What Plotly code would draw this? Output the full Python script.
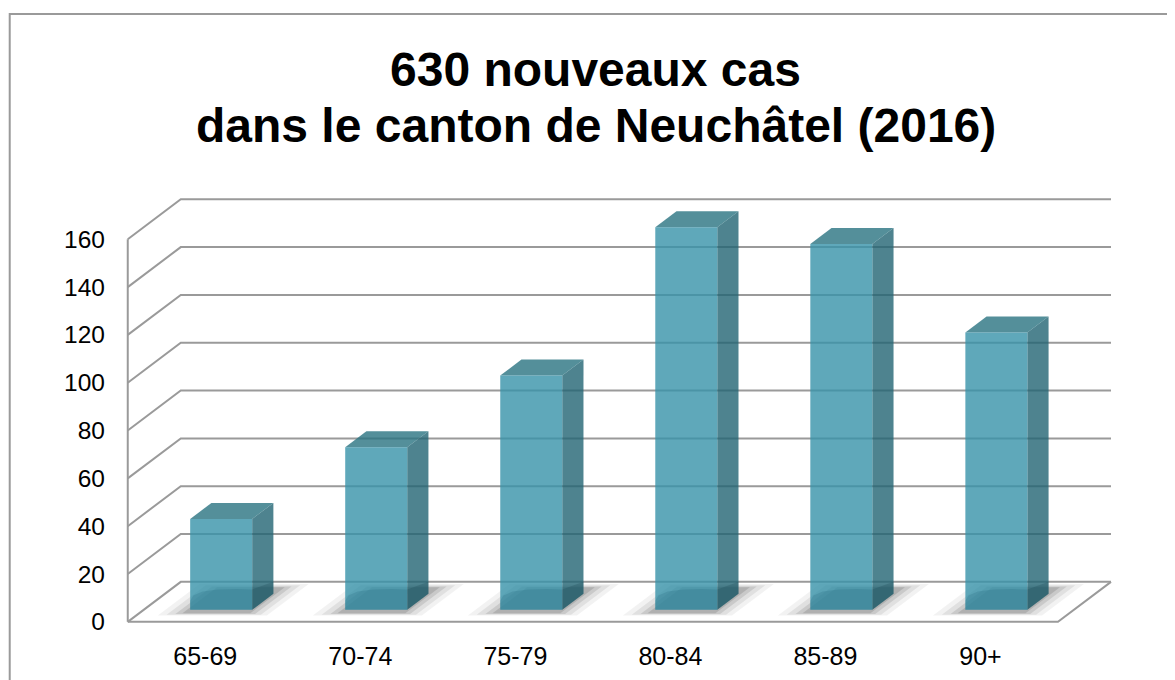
import plotly.graph_objects as go

# ---------------- data ----------------
categories = ["65-69", "70-74", "75-79", "80-84", "85-89", "90+"]
values = [38, 68, 98, 160, 153, 116]
y_ticks = [0, 20, 40, 60, 80, 100, 120, 140, 160]
title_lines = ["630 nouveaux cas", "dans le canton de Neuchâtel (2016)"]

# ---------------- geometry / style ----------------
W, H = 1175, 680
OFF = 8.0             # page body margin (page px = figure px + OFF)
PX_X = 155.0          # pixels per category unit
PX_Y = 2.392          # pixels per value unit
X0_PX, Y0_PX = 128.0 - OFF, 622.0 - OFF   # figure-pixel position of the front-axis origin
XR = [-0.05, 6.40]
YR = [-3.0, 180.6]
DX = 53.0 / PX_X      # depth offset (category units)
DY = 40.0 / PX_Y      # depth offset (value units)
F0, F1 = 0.30, 0.70   # bar depth span (fraction of floor depth)
BW = 0.40             # bar width (category units)
N = len(categories)
X_END = N + DX

L = X0_PX + XR[0] * PX_X
PW = (XR[1] - XR[0]) * PX_X
R = W - L - PW
T = Y0_PX - YR[1] * PX_Y
PH = (YR[1] - YR[0]) * PX_Y
B = H - T - PH

GRID = "#9a9a9a"
FONT = "Liberation Sans, Arial, sans-serif"

def px2paper_x(px):
    return (px - OFF - L) / PW

def py2paper_y(py):
    return (H - B - (py - OFF)) / PH

fig = go.Figure()

def poly(xs, ys, fill, line_color="rgba(0,0,0,0)", lw=0):
    fig.add_trace(go.Scatter(x=xs + [xs[0]], y=ys + [ys[0]], mode="lines", fill="toself",
                             fillcolor=fill, line=dict(color=line_color, width=lw),
                             hoverinfo="skip", showlegend=False))

def line(xs, ys, color=GRID, w=2):
    fig.add_trace(go.Scatter(x=xs, y=ys, mode="lines", line=dict(color=color, width=w),
                             hoverinfo="skip", showlegend=False))

# gridlines (front-left diagonal + back wall line)
for v in y_ticks:
    line([0, DX, X_END], [v, v + DY, v + DY])
# floor front edge and right edge
line([0, N, X_END], [0, 0, DY])
# front vertical axis
line([0, 0], [0, y_ticks[-1]])

# shadows on floor
for k, (grow, a) in enumerate([(0.16, 0.05), (0.11, 0.07), (0.06, 0.10), (0.02, 0.12)]):
    for i, v in enumerate(values):
        xc = i + 0.5
        g0 = max(F0 - 0.08 - grow * 0.4, 0.02)
        g1 = min(F1 + 0.15 + grow * 0.6, 0.98)
        xa = xc - BW / 2 - grow
        xb = xc + BW / 2 + grow * 0.9
        poly([xa + g0 * DX, xb + g0 * DX, xb + g1 * DX, xa + g1 * DX],
             [g0 * DY, g0 * DY, g1 * DY, g1 * DY],
             "rgba(0,0,0,%.3f)" % a)

FRONT = "rgba(55,146,169,0.80)"
TOP = "rgba(41,115,129,0.80)"
SIDE = "rgba(34,100,115,0.80)"
STRIP = 8.5   # height (value units) of darker reflection at the bottom

for i, v in enumerate(values):
    xc = i + 0.5
    x0 = xc - BW / 2 + F0 * DX
    x1 = xc + BW / 2 + F0 * DX
    yb = F0 * DY
    yt = v + F0 * DY
    ddx = (F1 - F0) * DX
    ddy = (F1 - F0) * DY
    # side face
    poly([x1, x1 + ddx, x1 + ddx, x1], [yb, yb + ddy, yt + ddy, yt], SIDE)
    poly([x1, x1 + ddx, x1 + ddx, x1], [yb, yb + ddy, yb + ddy + STRIP * 0.6, yb + STRIP],
         "rgba(10,50,60,0.18)")
    # top face
    poly([x0, x1, x1 + ddx, x0 + ddx], [yt, yt, yt + ddy, yt + ddy], TOP)
    # front face
    poly([x0, x1, x1, x0], [yb, yb, yt, yt], FRONT)
    # bottom reflection (slightly curved upper edge)
    w = x1 - x0
    sx = [x0, x1, x1, x0 + w * 0.75, x0 + w * 0.45, x0 + w * 0.2, x0 + w * 0.05, x0]
    sy = [yb, yb, yb + STRIP, yb + STRIP * 1.02, yb + STRIP * 1.0, yb + STRIP * 0.9,
          yb + STRIP * 0.7, yb + STRIP * 0.45]
    poly(sx, sy, "rgba(20,90,110,0.18)")

fig.update_xaxes(range=XR, tickvals=[i + 0.5 for i in range(N)], ticktext=categories,
                 showgrid=False, zeroline=False, showline=False, ticks="",
                 tickfont=dict(family=FONT, size=25, color="#000"), ticklabelstandoff=10,
                 fixedrange=True)
fig.update_yaxes(range=YR, tickvals=y_ticks, ticktext=[str(t) for t in y_ticks],
                 showgrid=False, zeroline=False, showline=False, ticks="",
                 tickfont=dict(family=FONT, size=24.5, color="#000"), ticklabelstandoff=14,
                 fixedrange=True)

# title lines
for text, py in zip(title_lines, [69.0, 125.0]):
    fig.add_annotation(text="<b>%s</b>" % text, xref="paper", yref="paper",
                       x=px2paper_x(596), y=py2paper_y(py), xanchor="center", yanchor="middle",
                       showarrow=False, font=dict(family=FONT, size=48, color="#000"))

# outer frame
fig.add_shape(type="rect", xref="paper", yref="paper",
              x0=px2paper_x(10), x1=px2paper_x(W + 30), y0=py2paper_y(H + 30), y1=py2paper_y(14),
              line=dict(color="#9a9a9a", width=2), fillcolor="rgba(0,0,0,0)", layer="below")

fig.update_layout(width=W, height=H, margin=dict(l=L, r=R, t=T, b=B, autoexpand=False),
                  paper_bgcolor="white", plot_bgcolor="white", showlegend=False)

fig.write_html("out.html")
